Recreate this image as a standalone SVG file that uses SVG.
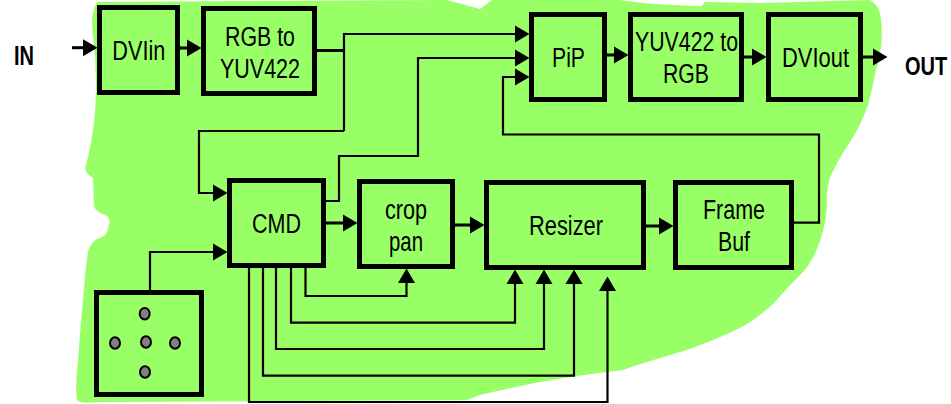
<svg xmlns="http://www.w3.org/2000/svg" width="951" height="404" viewBox="0 0 951 404">
<style>
.box{fill:#99ff66;stroke:#000;stroke-width:5}
.t{font-family:"Liberation Sans",Arial,sans-serif;font-size:27px;fill:#000}
.b{font-weight:bold}
.c{fill:none;stroke:#000;stroke-width:2.2;marker-end:url(#ah)}
.n{fill:none;stroke:#000;stroke-width:2.2}
.k{stroke-width:3}
.d{fill:#808080;stroke:#000;stroke-width:2}
</style>
<defs>
<marker id="ah" markerUnits="userSpaceOnUse" markerWidth="17" markerHeight="18" viewBox="0 0 17 18" refX="4" refY="9" orient="auto"><polygon points="0,0.5 14.5,9 0,17.5" fill="#000"/></marker>
</defs>
<path id="background" fill="#99ff66" d="M97,2 L447,0 L480,9 L492,0 L620,0 Q650,5 702,6 L705,2 L760,3 L870,0 Q880,5 881,20 Q884,45 876,70 Q872,90 868,105 Q860,128 848,145 Q835,165 830,178 Q826,190 827,205 Q826,222 821,238 Q814,260 803,272 Q790,285 773,304 Q755,320 740,328 Q715,340 690,349 L637,365 L623,370 Q580,375 540,382 Q510,388 480,395 L467,400 L100,402 Q80,404 77,400 Q75,385 78,362 Q80,330 83,302 Q85,270 88,252 Q90,243 97,239 Q108,236 108,228 Q112,218 105,215 Q93,210 94,205 L93,178 Q83,172 86,165 Q90,150 93,130 Q96,110 96,85 Q96,60 93,35 Q90,15 97,2 Z"/>
<g id="connectors">
<path class="c k" d="M72,47.7 H87"/>
<path class="c k" d="M180,48 H191"/>
<path class="n k" d="M317,50.5 H344"/>
<path class="c" d="M344,131 V34 H519"/>
<path class="c" d="M344,131 H199 V193 H217"/>
<path class="c" d="M326,201 H339 V156 H418 V58 H519"/>
<path class="c" d="M794,222.7 H819 V134.5 H503 V77 H519"/>
<path class="c k" d="M607,55 H618"/>
<path class="c k" d="M744,57 H756"/>
<path class="c k" d="M863,57 H877"/>
<path class="c k" d="M326,223 H347"/>
<path class="c k" d="M455,225 H474"/>
<path class="c k" d="M646,226 H663"/>
<path class="c" d="M150,290 V252 H217"/>
<path class="c" d="M305.5,268 V296 H406.5 V279"/>
<path class="c" d="M291,268 V322.7 H515 V280"/>
<path class="c" d="M276,268 V349 H544 V280"/>
<path class="c" d="M263,268 V375.7 H574 V280"/>
<path class="c" d="M249,268 V402 H607.5 V287"/>
</g>
<g id="dviin"><rect class="box" x="99.5" y="7.5" width="78" height="85"/><text class="t" x="112.3" y="60" textLength="53" lengthAdjust="spacingAndGlyphs">DVIin</text></g>
<g id="rgb2yuv"><rect class="box" x="203.5" y="8.5" width="111" height="85"/><text class="t" x="225" y="45.5" textLength="70" lengthAdjust="spacingAndGlyphs">RGB to</text><text class="t" x="220" y="78" textLength="80" lengthAdjust="spacingAndGlyphs">YUV422</text></g>
<g id="pip"><rect class="box" x="531.5" y="14.5" width="73" height="85"/><text class="t" x="552" y="66.7" textLength="33" lengthAdjust="spacingAndGlyphs">PiP</text></g>
<g id="yuv2rgb"><rect class="box" x="630.5" y="14.5" width="111" height="85"/><text class="t" x="635" y="50.7" textLength="103" lengthAdjust="spacingAndGlyphs">YUV422 to</text><text class="t" x="663" y="82.7" textLength="46" lengthAdjust="spacingAndGlyphs">RGB</text></g>
<g id="dviout"><rect class="box" x="768.5" y="14.5" width="92" height="85"/><text class="t" x="782" y="66.7" textLength="67" lengthAdjust="spacingAndGlyphs">DVIout</text></g>
<g id="cmd"><rect class="box" x="229.5" y="180.5" width="94" height="85"/><text class="t" x="252" y="232.7" textLength="49" lengthAdjust="spacingAndGlyphs">CMD</text></g>
<g id="croppan"><rect class="box" x="359.5" y="181.5" width="93" height="85"/><text class="t" x="385" y="218.7" textLength="42" lengthAdjust="spacingAndGlyphs">crop</text><text class="t" x="389" y="251" textLength="34" lengthAdjust="spacingAndGlyphs">pan</text></g>
<g id="resizer"><rect class="box" x="486.5" y="182.5" width="157" height="85"/><text class="t" x="529" y="235.3" textLength="74" lengthAdjust="spacingAndGlyphs">Resizer</text></g>
<g id="framebuf"><rect class="box" x="675.5" y="182.5" width="116" height="85"/><text class="t" x="703" y="218.7" textLength="62" lengthAdjust="spacingAndGlyphs">Frame</text><text class="t" x="718" y="251" textLength="32" lengthAdjust="spacingAndGlyphs">Buf</text></g>
<g id="keypad"><rect class="box" x="96.5" y="292.5" width="105" height="102"/><ellipse class="d" cx="144.7" cy="313.7" rx="5" ry="5.7"/><ellipse class="d" cx="115" cy="343" rx="5" ry="5.7"/><ellipse class="d" cx="146" cy="342" rx="5" ry="5.7"/><ellipse class="d" cx="175" cy="343" rx="5" ry="5.7"/><ellipse class="d" cx="145" cy="372" rx="5" ry="5.7"/></g>
<g id="in"><text class="t b" x="14" y="64.7" textLength="20" lengthAdjust="spacingAndGlyphs">IN</text></g>
<g id="out"><text class="t b" style="font-size:20px" transform="translate(905,75) scale(1,1.33)">OUT</text></g>
</svg>
